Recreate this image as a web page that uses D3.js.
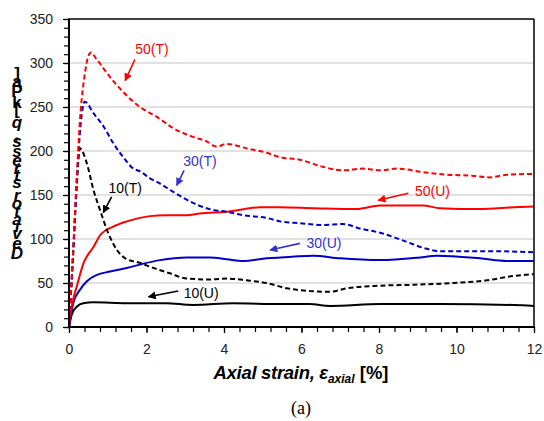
<!DOCTYPE html>
<html><head><meta charset="utf-8">
<script src="https://cdn.jsdelivr.net/npm/d3@7"></script>
<style>html,body{margin:0;padding:0;background:#fff;}svg{display:block;font-family:"Liberation Sans",Arial,sans-serif;}</style>
</head><body><svg id="c" width="544" height="421"></svg>
<script>
// ---- data (axial strain [%], deviator stress q [kPa]) ----
const t50Strain = [0,0.1,0.2,0.3,0.4,0.5,0.57,0.7,0.89,1.06,1.4,1.83,2.26,2.69,3.2,3.55,3.81,4.07,4.59,5.1,5.45,5.96,6.56,7.04,7.6,8.03,8.46,9.14,9.75,10.4,10.86,11.3,12];
const t50Stress = [0,80,170,245,285,308,312,305,294,284,267,250,239,226,216,211,205,208,203,198,193,190,182,178,180,178,180,176,173,172,170,173,174];
const t30Strain = [0,0.1,0.2,0.3,0.41,0.63,0.89,1.14,1.4,1.66,1.83,2.09,2.35,2.6,2.9,3.2,3.72,4.07,4.5,5.1,5.45,5.96,6.56,7.07,7.5,8.03,8.7,9.14,9.57,10.26,11.04,12];
const t30Stress = [0,80,165,230,256,243,228,209,193,180,177,169,163,156,148,141,133,131,127,124,120,118,116,117,112,107,97,90,86,86,86,85];
const t10Strain = [0,0.1,0.2,0.28,0.46,0.63,0.8,1.01,1.23,1.49,1.83,2.0,2.6,3.04,3.64,4.07,4.59,5.1,5.62,6.2,6.74,7.17,8.03,8.89,9.92,10.78,11.47,12];
const t10Stress = [0,75,160,203,186,156,133,107,88,77,73,70,61,55,54,55,53,50,44,41,40,44,47,48,50,53,58,60];
const u50Strain = [0,0.03,0.1,0.2,0.37,0.63,0.8,1.14,1.49,1.83,2.09,2.5,3.04,3.38,4.07,4.93,5.45,6.3,7.42,8.03,9.14,9.57,10.6,11.47,12];
const u50Stress = [0,12,30,46,72,91,104,114,120,124,126,127,127,129,131,136,136,135,134,138,138,135,134,136,137];
const u30Strain = [0,0.11,0.28,0.46,0.71,1.06,1.49,1.92,2.35,3.04,3.64,4.07,4.5,5.1,5.79,6.3,7.0,8.03,9.06,9.49,10.6,11.3,12];
const u30Stress = [0,27,42,52,59,63,67,72,76,79,79,77,75,78,80,81,78,76,79,81,78,75,75];
const u10Strain = [0,0.07,0.2,0.37,0.63,1.5,2.5,3.2,4.24,5.45,6.2,6.74,8.03,9.57,11.47,12];
const u10Stress = [0,14,23,27,28,27,27,25,27,26,26,24,26,26,25,24];

const xTicks = [0,2,4,6,8,10,12];
const yTicks = [0,50,100,150,200,250,300,350];
const seriesNames = ["50(T)","30(T)","10(T)","50(U)","30(U)","10(U)"];
const seriesColors = ["#ff0000","#0000cc","#000000","#ff0000","#0000cc","#000000"];

// annotation: label centre [strain, q], arrow tail and head [strain, q]
const annLabel = [[2.14,316],[3.38,188.5],[1.45,158.5],[9.38,154.5],[6.58,96],[3.41,39.2]];
const annTail  = [[1.70,304],[2.97,178],[1.10,148],[8.76,152],[5.96,95],[2.82,41]];
const annHead  = [[1.45,280],[2.78,161],[0.885,130],[7.98,144],[5.19,87.5],[2.05,34.4]];
const annColors = ["#ff0000","#3333cc","#000000","#ff0000","#3333cc","#000000"];

// ---- layout ----
const svg = d3.select("#c");
const L = 69, R = 534, T = 19, B = 327;
const x = d3.scaleLinear().domain([0,12]).range([L,R]);
const y = d3.scaleLinear().domain([0,350]).range([B,T]);

// gridlines
svg.append("g").selectAll("line").data(yTicks.filter(v=>v>0&&v<350)).join("line")
  .attr("x1",L).attr("x2",R).attr("y1",d=>y(d)).attr("y2",d=>y(d))
  .attr("stroke","#d9d9d9").attr("stroke-width",1.5);

// curves
const series = [
  {s:t50Strain,q:t50Stress,dash:true},
  {s:t30Strain,q:t30Stress,dash:true},
  {s:t10Strain,q:t10Stress,dash:true},
  {s:u50Strain,q:u50Stress,dash:false},
  {s:u30Strain,q:u30Stress,dash:false},
  {s:u10Strain,q:u10Stress,dash:false}
];
const line = d3.line().x(d=>x(d[0])).y(d=>y(d[1])).curve(d3.curveMonotoneX);
const order = [5,4,3,2,1,0];
order.forEach(i=>{
  const sr = series[i];
  svg.append("path").datum(sr.s.map((v,k)=>[v,sr.q[k]]))
    .attr("d",line).attr("fill","none")
    .attr("stroke",seriesColors[i]).attr("stroke-width",2)
    .attr("stroke-dasharray",sr.dash?"5,3":null)
    .attr("stroke-linejoin","round");
});

// axes
const yAxisMinor = d3.axisLeft(y).tickValues(d3.range(0,351,10)).tickSize(5).tickFormat("");
svg.append("g").attr("transform",`translate(${L},0)`).call(yAxisMinor)
  .call(g=>{g.select(".domain").remove();g.selectAll("line").attr("stroke","#000").attr("stroke-width",1.2);});
const yAxis = d3.axisLeft(y).tickValues(yTicks).tickSize(6).tickPadding(10);
svg.append("g").attr("transform",`translate(${L},0)`).call(yAxis)
  .call(g=>{g.select(".domain").remove();
    g.selectAll("line").attr("stroke","#000").attr("stroke-width",1.2);
    g.selectAll("text").attr("font-size",14).attr("fill","#222").attr("font-family","Liberation Sans, Arial");});
const xAxisMinor = d3.axisBottom(x).tickValues(d3.range(0,12.001,0.4)).tickSize(5).tickFormat("");
svg.append("g").attr("transform",`translate(0,${B})`).call(xAxisMinor)
  .call(g=>{g.select(".domain").remove();g.selectAll("line").attr("stroke","#000").attr("stroke-width",1.2);});
const xAxis = d3.axisBottom(x).tickValues(xTicks).tickSize(6).tickPadding(11);
svg.append("g").attr("transform",`translate(0,${B})`).call(xAxis)
  .call(g=>{g.select(".domain").remove();
    g.selectAll("line").attr("stroke","#000").attr("stroke-width",1.2);
    g.selectAll("text").attr("font-size",14).attr("fill","#222").attr("font-family","Liberation Sans, Arial");});

// frame
svg.append("line").attr("x1",L).attr("x2",R).attr("y1",T).attr("y2",T).attr("stroke","#000").attr("stroke-width",1.5);
svg.append("line").attr("x1",R).attr("x2",R).attr("y1",T).attr("y2",B).attr("stroke","#000").attr("stroke-width",1.5);
svg.append("line").attr("x1",L).attr("x2",L).attr("y1",T-0.5).attr("y2",B+1).attr("stroke","#000").attr("stroke-width",2);
svg.append("line").attr("x1",L-1).attr("x2",R+0.75).attr("y1",B).attr("y2",B).attr("stroke","#000").attr("stroke-width",2);

// annotations
const defs = svg.append("defs");
annColors.forEach((c,i)=>{
  defs.append("marker").attr("id","ah"+i).attr("viewBox","0 0 10 10").attr("refX",9).attr("refY",5)
    .attr("markerWidth",5).attr("markerHeight",5).attr("orient","auto-start-reverse").attr("markerUnits","strokeWidth")
    .append("path").attr("d","M0,0L10,5L0,10z").attr("fill",c);
});
seriesNames.forEach((n,i)=>{
  svg.append("line").attr("x1",x(annTail[i][0])).attr("y1",y(annTail[i][1]))
    .attr("x2",x(annHead[i][0])).attr("y2",y(annHead[i][1]))
    .attr("stroke",annColors[i]).attr("stroke-width",1.6).attr("marker-end",`url(#ah${i})`);
  svg.append("text").attr("x",x(annLabel[i][0])).attr("y",y(annLabel[i][1]))
    .attr("text-anchor","middle").attr("dominant-baseline","central")
    .attr("font-size",14).attr("fill",annColors[i]).text(n);
});

// x title
const xt = svg.append("text").attr("x",301).attr("y",379).attr("text-anchor","middle")
  .attr("font-size",18.5).attr("fill","#000");
xt.append("tspan").attr("font-style","italic").attr("font-weight","bold").attr("letter-spacing","-0.3").text("Axial strain, ε");
xt.append("tspan").attr("font-style","italic").attr("font-weight","bold").attr("font-size",12).attr("dy",4).text("axial");
xt.append("tspan").attr("font-weight","bold").attr("dy",-4).text(" [%]");

// (a)
svg.append("text").attr("x",301).attr("y",414).attr("text-anchor","middle")
  .attr("font-family","Liberation Serif, Times New Roman, serif").attr("font-size",18).attr("fill","#000").text("(a)");

// y title: upright glyphs stacked along a vertical baseline
const yLabel = "Deviator stress, q [kPa]";
const fs = 17;
const meas = svg.append("text").attr("x",0).attr("y",-100).attr("font-size",fs)
  .attr("font-weight","bold").attr("font-style","italic").text(yLabel);
const n = yLabel.length;
const starts = [], widths = [];
for (let i=0;i<n;i++){ starts.push(meas.node().getStartPositionOfChar(i).x); widths.push(meas.node().getSubStringLength(i,1)); }
const total = meas.node().getComputedTextLength();
meas.remove();
const mid = 165, cx = 17;
const yt = svg.append("text").attr("font-size",fs).attr("font-weight","bold").attr("fill","#000").attr("text-anchor","middle");
for (let i=0;i<n;i++){
  const c = starts[i] + widths[i]/2;
  yt.append("tspan").attr("x",cx).attr("y",mid + total/2 - c + fs*0.36)
    .attr("font-style", i < 18 ? "italic" : "normal").text(yLabel[i]);
}
</script>
</body></html>
